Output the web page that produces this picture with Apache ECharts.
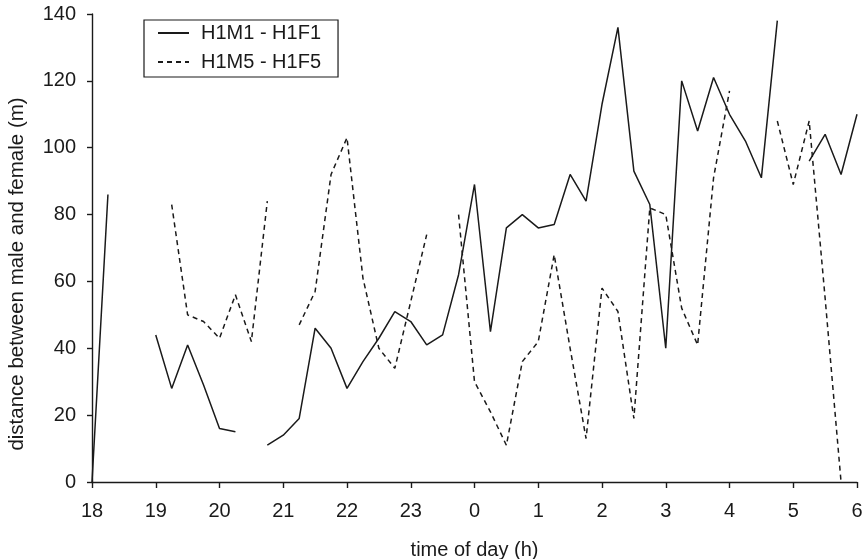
<!DOCTYPE html>
<html>
<head>
<meta charset="utf-8">
<script src="https://cdn.jsdelivr.net/npm/echarts@6/dist/echarts.min.js"></script>
<style>
  html, body { margin: 0; padding: 0; background: #fff; }
  #chart { width: 865px; height: 559px; }
</style>
</head>
<body>
<div id="chart"></div>
<script>
// Quarter-hour sampling times, 18:00 through 06:00 the next morning
const times = [
  '18:00','18:15','18:30','18:45','19:00','19:15','19:30','19:45',
  '20:00','20:15','20:30','20:45','21:00','21:15','21:30','21:45',
  '22:00','22:15','22:30','22:45','23:00','23:15','23:30','23:45',
  '0:00','0:15','0:30','0:45','1:00','1:15','1:30','1:45',
  '2:00','2:15','2:30','2:45','3:00','3:15','3:30','3:45',
  '4:00','4:15','4:30','4:45','5:00','5:15','5:30','5:45',
  '6:00'
];

// Male-female distance (m); null = no fix for that quarter hour
const pair1Name = 'H1M1 - H1F1';
const pair1 = [
  0, 86, null, null, 44, 28, 41, 29,
  16, 15, null, 11, 14, 19, 46, 40,
  28, 36, 43, 51, 48, 41, 44, 62,
  89, 45, 76, 80, 76, 77, 92, 84,
  113, 136, 93, 83, 40, 120, 105, 121,
  110, 102, 91, 138, null, 96, 104, 92,
  110
];

const pair5Name = 'H1M5 - H1F5';
const pair5 = [
  null, null, null, null, null, 83, 50, 48,
  43, 56, 42, 84, null, 47, 57, 92,
  103, 61, 40, 34, 54, 74, null, 80,
  30, 21, 11, 36, 42, 68, 40, 13,
  58, 51, 19, 82, 80, 52, 41, 91,
  117, null, null, 108, 89, 108, 55, 0,
  null
];

const yTicks = { min: 0, max: 140, step: 20 };
const xTitle = 'time of day (h)';
const yTitle = 'distance between male and female (m)';

const FONT = '"Liberation Sans", Arial, Helvetica, sans-serif';
const INK = '#1a1a1a';

const chart = echarts.init(document.getElementById('chart'), null, { renderer: 'canvas' });

chart.setOption({
  animation: false,
  backgroundColor: '#ffffff',
  grid: {
    left: 92, right: 8, top: 14, bottom: 77,
    containLabel: false,
    outerBoundsMode: 'none'
  },
  legend: {
    orient: 'vertical',
    left: 144,
    top: 20,
    padding: [3, 17, 5, 13],
    itemWidth: 31,
    itemHeight: 20,
    itemGap: 9,
    borderColor: INK,
    borderWidth: 1.2,
    borderRadius: 0,
    selectedMode: false,
    // line-only keys: hide the marker the line series would add
    itemStyle: { opacity: 0 },
    textStyle: {
      fontFamily: FONT,
      fontSize: 20,
      color: INK,
      lineHeight: 20,
      padding: [0, 0, 0, 7]
    },
    data: [pair1Name, pair5Name]
  },
  xAxis: {
    type: 'category',
    data: times,
    boundaryGap: false,
    axisLine: { lineStyle: { color: INK, width: 1.4 } },
    axisTick: { interval: 3, length: 6, lineStyle: { color: INK, width: 1.4 } },
    axisLabel: {
      interval: 3,
      margin: 19,
      fontFamily: FONT,
      fontSize: 20,
      color: INK,
      formatter: v => String(parseInt(v, 10))
    },
    splitLine: { show: false },
    name: xTitle,
    nameLocation: 'middle',
    nameGap: 58,
    nameTextStyle: { fontFamily: FONT, fontSize: 20, color: INK }
  },
  yAxis: {
    type: 'value',
    min: yTicks.min,
    max: yTicks.max,
    interval: yTicks.step,
    axisLine: { show: true, lineStyle: { color: INK, width: 1.4 } },
    axisTick: { show: true, length: 5, lineStyle: { color: INK, width: 1.4 } },
    axisLabel: { margin: 16, fontFamily: FONT, fontSize: 20, color: INK },
    splitLine: { show: false }
  },
  graphic: [{
    type: 'text',
    x: 17,
    y: 274,
    rotation: Math.PI / 2,
    style: {
      text: yTitle,
      fontFamily: FONT,
      fontSize: 20.5,
      fill: INK,
      align: 'center',
      verticalAlign: 'middle'
    }
  }],
  series: [
    {
      name: pair1Name,
      type: 'line',
      data: pair1,
      symbol: 'none',
      connectNulls: false,
      lineStyle: { color: INK, width: 1.5, type: 'solid' },
      itemStyle: { color: INK }
    },
    {
      name: pair5Name,
      type: 'line',
      data: pair5,
      symbol: 'none',
      connectNulls: false,
      lineStyle: { color: INK, width: 1.5, type: [5, 4] },
      itemStyle: { color: INK }
    }
  ]
});
</script>
</body>
</html>
